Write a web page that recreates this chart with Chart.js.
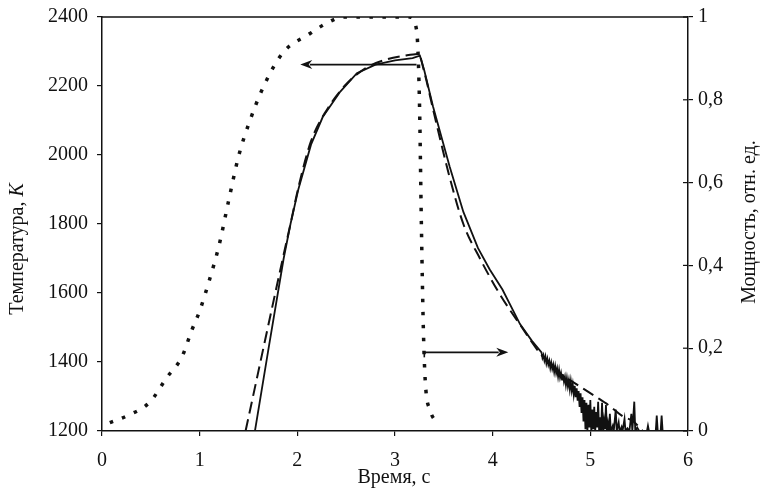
<!DOCTYPE html>
<html>
<head>
<meta charset="utf-8">
<script src="https://cdn.jsdelivr.net/npm/chart.js@4.4.1/dist/chart.umd.min.js"></script>
<style>
  html, body { margin: 0; padding: 0; background: #fff; }
</style>
</head>
<body>
<canvas id="chart" width="761" height="496"></canvas>
<script>
// Measured temperature (solid), K
const measuredTime = [
  1.566, 1.70, 1.86, 1.93, 2.01, 2.14, 2.26, 2.44, 2.61, 2.80, 3.00, 3.18, 3.255,
  3.30, 3.39, 3.56, 3.70, 3.85, 3.97, 4.10, 4.28, 4.40,
  4.50, 4.51, 4.52, 4.53, 4.54, 4.55, 4.56, 4.57, 4.58, 4.59, 4.60, 4.61, 4.62, 4.63,
  4.64, 4.65, 4.66, 4.67, 4.68, 4.69, 4.70, 4.71, 4.72, 4.73, 4.74, 4.75, 4.76, 4.77,
  4.78, 4.79, 4.80, 4.81, 4.82, 4.83, 4.84, 4.85, 4.86, 4.87, 4.88, 4.89, 4.90, 4.91,
  4.92, 4.93, 4.94, 4.95, 4.96, 4.97, 4.98, 4.99, 5.00, 5.01, 5.02, 5.03, 5.04, 5.05,
  5.06, 5.07, 5.08, 5.09, 5.10, 5.11, 5.12, 5.13, 5.14, 5.15, 5.16, 5.17, 5.18, 5.19,
  5.20, 5.21, 5.23, 5.24, 5.26, 5.27, 5.29, 5.30, 5.32, 5.33, 5.35, 5.36, 5.38, 5.40,
  5.42, 5.43, 5.45, 5.46, 5.48, 5.50, 5.58, 5.59, 5.60, 5.67, 5.68, 5.69, 5.72, 5.73,
  5.74, 5.76
];
const measuredTemp = [
  1200, 1430, 1700, 1800, 1900, 2030, 2110, 2184, 2237, 2262, 2274, 2281, 2288,
  2245, 2140, 1966, 1835, 1730, 1668, 1610, 1510, 1462,
  1428, 1412, 1420, 1404, 1416, 1396, 1409, 1392, 1403, 1383, 1398, 1380, 1392, 1371,
  1388, 1368, 1381, 1358, 1377, 1355, 1368, 1349, 1364, 1343, 1357, 1333, 1353, 1330,
  1347, 1321, 1344, 1317, 1335, 1306, 1331, 1298, 1324, 1288, 1316, 1270, 1309, 1252,
  1298, 1228, 1290, 1205, 1282, 1198, 1276, 1210, 1290, 1195, 1262, 1205, 1270, 1198,
  1255, 1210, 1285, 1198, 1240, 1202, 1282, 1198, 1230, 1205, 1275, 1198, 1222, 1200,
  1250, 1198, 1215, 1200, 1262, 1200, 1225, 1198, 1212, 1200, 1235, 1200, 1208, 1200,
  1250, 1200, 1285, 1200, 1210, 1200, 1200, 1215, 1200, 1200, 1245, 1200, 1200, 1245,
  1200, 1200
];

// Calculated temperature (dashed), K
const calcTime = [
  1.47, 1.855, 1.93, 2.01, 2.14, 2.30, 2.50, 2.70, 2.90, 3.10, 3.24, 3.30, 3.40,
  3.56, 3.70, 3.87, 4.07, 4.30, 4.50, 4.70, 4.86, 5.07, 5.20, 5.33, 5.44, 5.52, 5.56
];
const calcTemp = [
  1200, 1705, 1800, 1905, 2040, 2130, 2205, 2252, 2276, 2288, 2293, 2240, 2120,
  1935, 1800, 1700, 1598, 1500, 1420, 1365, 1335, 1297, 1272, 1243, 1228, 1205, 1195
];

// Power, relative units (dotted, right axis)
const powerTime = [
  0.08, 0.25, 0.49, 0.66, 0.82, 0.92, 1.00, 1.10, 1.20, 1.30, 1.40, 1.50, 1.65,
  1.85, 2.13, 2.30, 2.47, 3.15, 3.22, 3.25, 3.27, 3.29, 3.31, 3.36, 3.43
];
const powerValue = [
  0.02, 0.036, 0.07, 0.128, 0.18, 0.244, 0.29, 0.365, 0.45, 0.56, 0.665, 0.74, 0.83,
  0.913, 0.96, 0.985, 1.0, 1.0, 0.97, 0.80, 0.50, 0.25, 0.12, 0.05, 0.02
];

// Axis ticks
const timeTicks = [0, 1, 2, 3, 4, 5, 6];
const tempTicks = [1200, 1400, 1600, 1800, 2000, 2200, 2400];
const powerTicks = [0, 0.2, 0.4, 0.6, 0.8, 1];

// Pointer arrows: which curve belongs to which axis
const arrowTempTime = [3.22, 2.03];
const arrowTempLevel = [2262, 2262];
const arrowPowerTime = [3.30, 4.16];
const arrowPowerLevel = [0.19, 0.19];

const FONT = 'Liberation Serif, Times New Roman, serif';
const INK = '#111';

function toPoints(xs, ys) {
  return xs.map((x, i) => ({ x: x, y: ys[i] }));
}

function drawArrow(ctx, x1, y1, x2, y2) {
  const ang = Math.atan2(y2 - y1, x2 - x1);
  const len = 12, half = 4.5;
  ctx.beginPath();
  ctx.moveTo(x1, y1);
  ctx.lineTo(x2 - Math.cos(ang) * len * 0.8, y2 - Math.sin(ang) * len * 0.8);
  ctx.stroke();
  ctx.beginPath();
  ctx.moveTo(x2, y2);
  ctx.lineTo(x2 - Math.cos(ang) * len + Math.sin(ang) * half, y2 - Math.sin(ang) * len - Math.cos(ang) * half);
  ctx.lineTo(x2 - Math.cos(ang) * len * 0.7, y2 - Math.sin(ang) * len * 0.7);
  ctx.lineTo(x2 - Math.cos(ang) * len - Math.sin(ang) * half, y2 - Math.sin(ang) * len + Math.cos(ang) * half);
  ctx.closePath();
  ctx.fill();
}

const decorPlugin = {
  id: 'decor',
  afterDraw(chart) {
    const ctx = chart.ctx;
    const area = chart.chartArea;
    const xs = chart.scales.x, ys = chart.scales.y, ps = chart.scales.y1;
    ctx.save();
    ctx.strokeStyle = INK;
    ctx.fillStyle = INK;

    // top frame line
    ctx.lineWidth = 1.5;
    ctx.beginPath();
    ctx.moveTo(area.left, area.top);
    ctx.lineTo(area.right, area.top);
    ctx.stroke();

    // right axis ticks cross the axis: add the inner half
    ctx.lineWidth = 1.2;
    powerTicks.forEach(v => {
      const py = ps.getPixelForValue(v);
      ctx.beginPath();
      ctx.moveTo(area.right - 5, py);
      ctx.lineTo(area.right, py);
      ctx.stroke();
    });

    // arrows
    ctx.lineWidth = 1.6;
    drawArrow(ctx,
      xs.getPixelForValue(arrowTempTime[0]), ys.getPixelForValue(arrowTempLevel[0]),
      xs.getPixelForValue(arrowTempTime[1]), ys.getPixelForValue(arrowTempLevel[1]));
    const ax = xs.getPixelForValue(arrowPowerTime[0]);
    const ay = ps.getPixelForValue(arrowPowerLevel[0]);
    ctx.beginPath();
    ctx.moveTo(ax, ay + 5);
    ctx.lineTo(ax, ay);
    ctx.stroke();
    drawArrow(ctx, ax, ay,
      xs.getPixelForValue(arrowPowerTime[1]), ps.getPixelForValue(arrowPowerLevel[1]));

    // axis titles
    ctx.font = '20px ' + FONT;
    ctx.textBaseline = 'middle';
    ctx.textAlign = 'center';
    ctx.fillText('Время, с', (area.left + area.right) / 2 - 1, 478);

    // left title: "Температура, K" with italic K
    ctx.save();
    ctx.translate(18, 249);
    ctx.rotate(-Math.PI / 2);
    const part1 = 'Температура, ';
    ctx.font = '20px ' + FONT;
    const w1 = ctx.measureText(part1).width;
    ctx.font = 'italic 20px ' + FONT;
    const w2 = ctx.measureText('K').width;
    const start = -(w1 + w2) / 2;
    ctx.textAlign = 'left';
    ctx.font = '20px ' + FONT;
    ctx.fillText(part1, start, 0);
    ctx.font = 'italic 20px ' + FONT;
    ctx.fillText('K', start + w1, 0);
    ctx.restore();

    // right title
    ctx.save();
    ctx.translate(750, 222);
    ctx.rotate(-Math.PI / 2);
    ctx.font = '20px ' + FONT;
    ctx.textAlign = 'center';
    ctx.fillText('Мощность, отн. ед.', 0, 0);
    ctx.restore();

    ctx.restore();
  }
};

const axisStyle = {
  grid: {
    drawOnChartArea: false,
    drawTicks: true,
    tickLength: 5,
    color: INK,
    lineWidth: 1.2,
  },
  border: { display: true, color: INK, width: 1.5 },
};

function fixVertical(width) {
  return function (scale) {
    scale.width = width;
    scale.paddingTop = 0;
    scale.paddingBottom = 0;
  };
}

new Chart(document.getElementById('chart').getContext('2d'), {
  type: 'line',
  data: {
    datasets: [
      {
        label: 'Измерение',
        data: toPoints(measuredTime, measuredTemp),
        yAxisID: 'y',
        borderColor: INK,
        borderWidth: 1.8,
        pointRadius: 0,
        tension: 0,
        fill: false,
      },
      {
        label: 'Расчёт',
        data: toPoints(calcTime, calcTemp),
        yAxisID: 'y',
        borderColor: INK,
        borderWidth: 2,
        borderDash: [12, 6],
        pointRadius: 0,
        cubicInterpolationMode: 'monotone',
        fill: false,
      },
      {
        label: 'Мощность',
        data: toPoints(powerTime, powerValue),
        yAxisID: 'y1',
        borderColor: INK,
        borderWidth: 3.5,
        borderDash: [3.5, 9.5],
        borderCapStyle: 'butt',
        pointRadius: 0,
        cubicInterpolationMode: 'monotone',
        fill: false,
      },
    ],
  },
  options: {
    responsive: false,
    animation: false,
    layout: { padding: { top: 17, left: 0, right: 0, bottom: 0 } },
    plugins: {
      legend: { display: false },
      tooltip: { enabled: false },
      title: { display: false },
    },
    scales: {
      x: {
        type: 'linear',
        position: 'bottom',
        min: 0,
        max: 6,
        afterFit(scale) { scale.height = 65; },
        afterBuildTicks(scale) { scale.ticks = timeTicks.map(v => ({ value: v })); },
        ticks: {
          font: { family: FONT, size: 20 },
          color: INK,
          padding: 13,
          maxRotation: 0,
          callback: v => String(v),
        },
        ...axisStyle,
      },
      y: {
        type: 'linear',
        position: 'left',
        min: 1200,
        max: 2400,
        afterFit: fixVertical(102),
        afterBuildTicks(scale) { scale.ticks = tempTicks.map(v => ({ value: v })); },
        ticks: {
          font: { family: FONT, size: 20 },
          color: INK,
          padding: 9,
          callback: v => String(v),
        },
        ...axisStyle,
      },
      y1: {
        type: 'linear',
        position: 'right',
        min: 0,
        max: 1,
        afterFit: fixVertical(73),
        afterBuildTicks(scale) { scale.ticks = powerTicks.map(v => ({ value: v })); },
        ticks: {
          font: { family: FONT, size: 20 },
          color: INK,
          padding: 5,
          callback: v => String(Number(v.toFixed(1))).replace('.', ','),
        },
        ...axisStyle,
      },
    },
  },
  plugins: [decorPlugin],
});
</script>
</body>
</html>
